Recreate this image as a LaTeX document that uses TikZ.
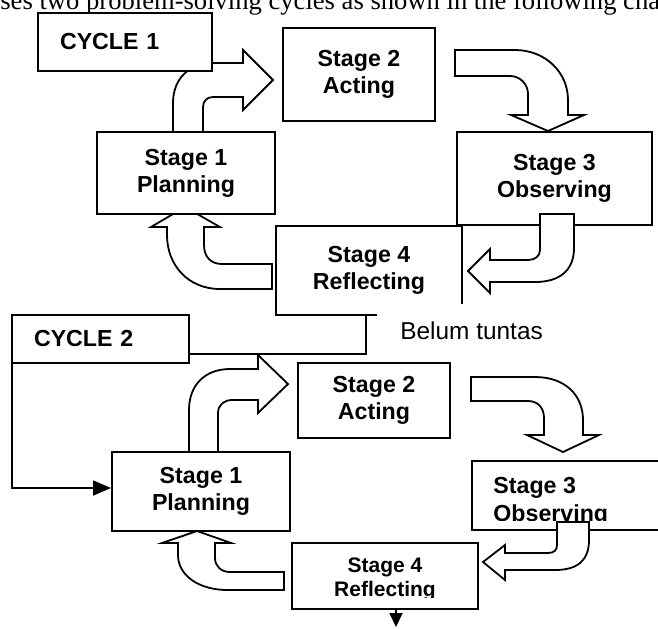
\documentclass[tikz,border=0pt]{standalone}
\usepackage{fontspec}
\setmainfont{Liberation Serif}
\newfontfamily\arial{Liberation Sans}
\usepackage{tikz}
\usetikzlibrary{arrows.meta}
\newcommand{\stagefont}{\fontsize{11.6}{13.5}\selectfont\arial\bfseries}
\newcommand{\smallstagefont}{\fontsize{10.5}{12.5}\selectfont\arial\bfseries}
\newcommand{\belumfont}{\fontsize{12.2}{14}\selectfont\arial}

\begin{document}
\begin{tikzpicture}[x=0.5pt, y=-0.5pt]
    % Styles
    \tikzstyle{stagebox} = [rectangle, draw, line width=1pt, fill=white, align=center, inner sep=0pt, font=\stagefont]
    \tikzstyle{cyclebox} = [rectangle, draw, line width=1pt, fill=white, align=left, inner xsep=11pt, inner ysep=0pt, font=\stagefont]
    \tikzstyle{stagetext} = [inner sep=0pt, anchor=base west, font=\stagefont]
    \tikzstyle{bigarrow} = [draw, fill=white, line width=0.9pt, line join=miter]
    \tikzstyle{link} = [line width=0.9pt, -{Triangle[length=9pt, width=7.5pt]}]
    \tikzstyle{belumbox} = [fill=white, inner xsep=11.5pt, inner ysep=8.5pt, anchor=base west, font=\belumfont]

    \clip (0,0) rectangle (658,628);

    % Text above the chart
    \node[inner sep=0pt, anchor=base west, font=\fontsize{13.3}{15}\selectfont] (caption) at (0,9.5) {ses two problem-solving cycles as shown in the following chart};

    % Cycle 1: block arrows behind the boxes
    \draw[bigarrow] (173,132) -- (173,103) .. controls (173,78) and (190,63) .. (213,63) -- (243,63) -- (243,50) -- (273,80) -- (243,110) -- (243,97) -- (213,97) .. controls (207,97) and (203,101) .. (203,107) -- (203,132) -- cycle;
    \draw[bigarrow] (455,50) -- (515,50) .. controls (545,50) and (568,72) .. (568,100) -- (568,115) -- (584,115) -- (548,131) -- (511,115) -- (528,115) -- (528,94) .. controls (528,84) and (520,76) .. (510,76) -- (455,76) -- cycle;
    \draw[bigarrow] (272,264) -- (272,289) -- (220,289) .. controls (188,289) and (167,265) .. (167,235) -- (167,227) -- (151,227) -- (185,207) -- (220,227) -- (204,227) -- (204,245) .. controls (204,257) and (211,264) .. (222,264) -- cycle;

    % Cycle 1: boxes
    \node[stagebox, minimum width=89pt, minimum height=41pt] (s1a) at (186,173) {Stage 1\\Planning};
    \node[stagebox, minimum width=76pt, minimum height=46.5pt] (s2a) at (359,74.5) {Stage 2\\Acting};
    \node[stagebox, minimum width=97.5pt, minimum height=46.5pt] (s3a) at (554.5,178.5) {Stage 3\\Observing};
    \node[stagebox, minimum width=93pt, minimum height=44.5pt] (s4a) at (369,270.5) {Stage 4\\Reflecting};
    \node[cyclebox, text width=65pt, minimum height=29pt] (cyc1) at (125,42) {CYCLE 1};

    \draw[bigarrow] (540,214) -- (574,214) -- (574,248) .. controls (574,270) and (560,282) .. (535,282) -- (490,282) -- (490,293) -- (468,271) -- (490,249) -- (490,260) -- (528,260) .. controls (535,260) and (540,256) .. (540,250) -- cycle;

    \node[belumbox] (belum) at (377,339) {Belum tuntas};

    % Cycle 2: block arrows behind the boxes
    \draw[bigarrow] (189,452) -- (189,410) .. controls (189,385) and (205,369) .. (230,369) -- (258,369) -- (258,355) -- (288,384) -- (258,413) -- (258,400) -- (232,400) .. controls (224,400) and (218,405) .. (218,413) -- (218,452) -- cycle;
    \draw[bigarrow] (471,377) -- (535,377) .. controls (565,377) and (583,395) .. (583,420) -- (583,435) -- (599,435) -- (563,452) -- (527,435) -- (544,435) -- (544,418) .. controls (544,408) and (538,401) .. (528,401) -- (471,401) -- cycle;
    \draw[bigarrow] (284,572) -- (284,590) -- (228,590) .. controls (198,590) and (178,575) .. (178,555) -- (178,543) -- (162,543) -- (197,531) -- (231,543) -- (215,543) -- (215,558) .. controls (215,566) and (221,572) .. (230,572) -- cycle;

    % Cycle 2: boxes
    \node[stagebox, minimum width=89pt, minimum height=39.5pt] (s1b) at (201,491.5) {Stage 1\\Planning};
    \node[stagebox, minimum width=76pt, minimum height=37.5pt] (s2b) at (374,400.5) {Stage 2\\Acting};
    \node[stagebox, minimum width=99pt, minimum height=34.5pt] (s3b) at (571,495.5) {};
    \begin{scope}
        \clip (472,461) rectangle (658,520.5);
        \node[stagetext] (s3btop) at (493,493) {Stage 3};
        \node[stagetext] (s3bbot) at (493,521) {Observing};
    \end{scope}
    \node[stagebox, minimum width=93pt, minimum height=33pt] (s4b) at (385,576) {};
    \begin{scope}
        \clip (292,543) rectangle (478,597);
        \node[stagetext, anchor=base, font=\smallstagefont] (s4btop) at (385,572) {Stage 4};
        \node[stagetext, anchor=base, font=\smallstagefont] (s4bbot) at (385,596) {Reflecting};
    \end{scope}

    % Back to planning for the second cycle
    \coordinate (bend) at (12,354);
    \draw[link] ([xshift=-1.5pt]s4a.south) |- (bend) |- ([yshift=1.75pt]s1b.west);
    \node[cyclebox, text width=66.5pt, minimum height=24pt] (cyc2) at (100.5,339) {CYCLE 2};

    \draw[bigarrow] (557,522) -- (589,522) -- (589,540) .. controls (589,560) and (578,570) .. (555,570) -- (505,570) -- (505,580) -- (483,562) -- (505,545) -- (505,553) -- (548,553) .. controls (554,553) and (557,550) .. (557,545) -- cycle;

    \coordinate (exit) at (396,627);
    \draw[link, -{Triangle[length=7pt, width=6.5pt]}] (s4b.south -| exit) -- (exit);
\end{tikzpicture}
\end{document}
